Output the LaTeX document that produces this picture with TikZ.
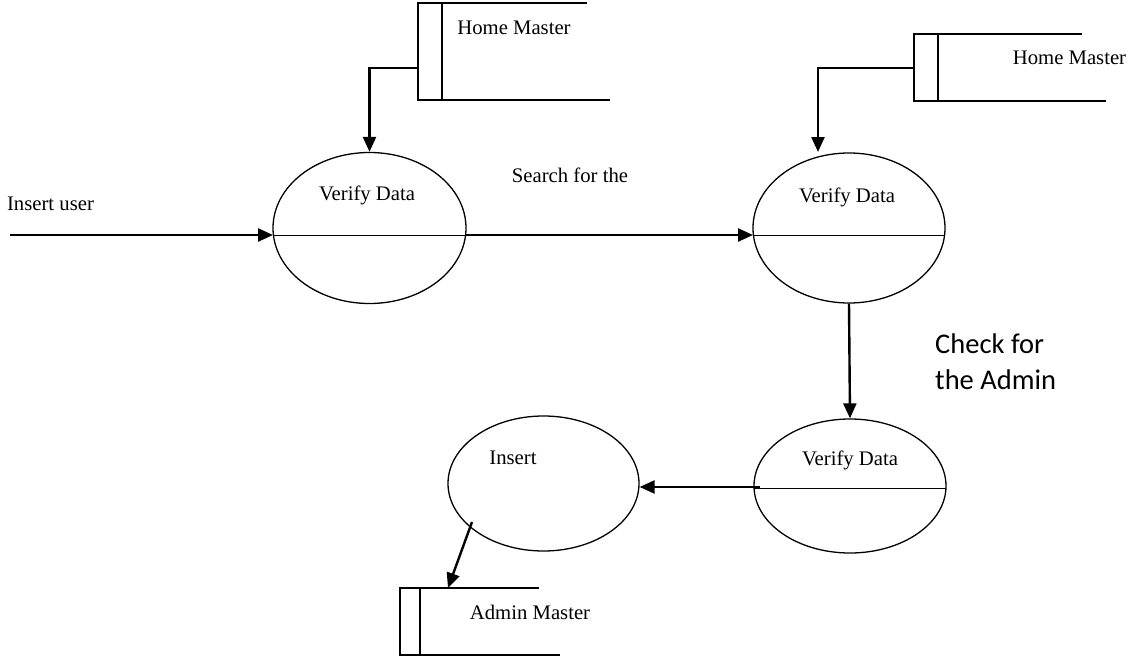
\documentclass[tikz,border=0pt]{standalone}
\usepackage{fontspec}
\setmainfont{Liberation Serif}
\newfontfamily\calib{Carlito}
\usetikzlibrary{shapes.geometric,arrows.meta,calc}
\tikzset{
  proc/.style={draw, ellipse, line width=1.3pt, inner sep=0pt},
  divider/.style={line width=1pt},
  flow/.style={line width=2.4pt, -{Triangle[length=15pt,width=13pt]}},
  storeline/.style={line width=1.4pt},
  lbl/.style={font=\fontsize{20.7}{24}\selectfont, inner sep=0pt},
}
\begin{document}
\begin{tikzpicture}[x=1pt,y=-1pt]
\useasboundingbox[fill=white] (0,0) rectangle (1128,656);

% processes
\node[proc, minimum width=193pt, minimum height=151pt] (e1) at (369.5,228) {};
\node[proc, minimum width=192pt, minimum height=150pt] (e2) at (849,228) {};
\node[proc, minimum width=192pt, minimum height=134pt] (e3) at (850,486) {};
\node[proc, minimum width=191pt, minimum height=135pt] (e4) at (543.5,483.5) {};

% dividers
\coordinate (d1l) at (273,235); \coordinate (d1r) at (466,235);
\coordinate (d2l) at (753,235); \coordinate (d2r) at (945,235);
\coordinate (d3l) at (754,488); \coordinate (d3r) at (946,488);
\draw[divider] (d1l) -- (d1r);
\draw[divider] (d2l) -- (d2r);
\draw[divider] (d3l) -- (d3r);

% labels in processes
\node[lbl] (t1) at (367,195) {Verify Data};
\node[lbl] (t2) at (847,197) {Verify Data};
\node[lbl] (t3) at (850,460) {Verify Data};
\node[lbl] (t4) at (513,458) {Insert};

% data stores
\draw[storeline] (587,3) -- (418,3) -- (418,100) -- (610,100);
\draw[storeline] (442,3) -- (442,100);
\coordinate (s1l) at (418,68);
\node[lbl] (s1) at (514,28) {Home Master};

\draw[storeline] (1082,34) -- (914,34) -- (914,101) -- (1106,101);
\draw[storeline] (938,34) -- (938,101);
\coordinate (s2l) at (914,68);
\node[lbl] (s2) at (1069.5,58) {Home Master};

\draw[storeline] (539,588) -- (400,588) -- (400,655) -- (560,655);
\draw[storeline] (420,588) -- (420,655);
\coordinate (s3t) at (448,588);
\node[lbl] (s3) at (530,612) {Admin Master};

% flows
\coordinate (src) at (10,235);
\node[lbl] (lin) at (50.5,204) {Insert user};
\draw[flow] (src) -- (d1l);

\draw[flow] (d1r) -- (d2l);
\node[lbl] (lsearch) at (570,175) {Search for the};

\draw[flow] (s1l) -| (e1.north);
\coordinate (e2in) at (818,152);
\draw[flow] (s2l) -| (e2in);

\draw[flow] (e2.south) -- (e3.north);
\node[font=\calib\fontsize{28.5}{36}\selectfont, align=left, anchor=north west, inner sep=0pt] (lcheck) at (935,334) {Check for\\the Admin};

\coordinate (e3out) at (760,487);
\draw[flow] (e3out) -- (e3out -| e4.east);

\coordinate (e4out) at (472,522);
\draw[flow] (e4out) -- (s3t);
\end{tikzpicture}
\end{document}
